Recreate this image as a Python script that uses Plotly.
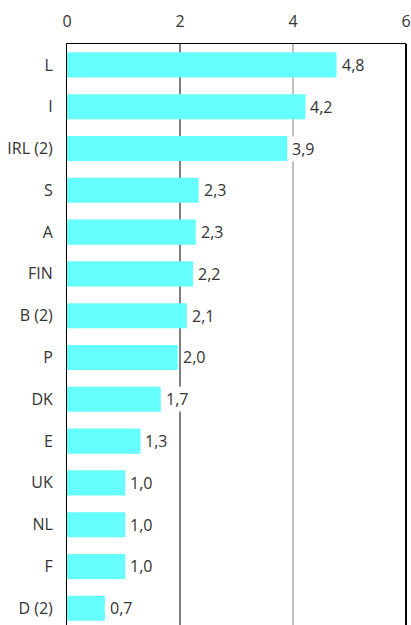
import plotly.graph_objects as go

categories = ["L", "I", "IRL (2)", "S", "A", "FIN", "B (2)", "P", "DK", "E", "UK", "NL", "F", "D (2)"]
values = [4.77, 4.22, 3.9, 2.33, 2.28, 2.23, 2.12, 1.96, 1.66, 1.3, 1.03, 1.03, 1.03, 0.67]
value_labels = ["4,8", "4,2", "3,9", "2,3", "2,3", "2,2", "2,1", "2,0", "1,7", "1,3", "1,0", "1,0", "1,0", "0,7"]
x_ticks = [0, 2, 4, 6]

FONT = "Open Sans"
TXT = "#333333"
FS = 16

fig = go.Figure(go.Bar(
    y=categories, x=values, orientation="h",
    marker=dict(color="#66FFFF", line=dict(width=0)),
    width=0.6,
    hoverinfo="skip",
))

# value labels with white background (they mask the gridlines behind them)
annotations = [
    dict(x=v, y=c, xref="x", yref="y", text=t, showarrow=False, xanchor="left", yanchor="middle",
         xshift=3, bgcolor="white", borderpad=1, font=dict(family=FONT, size=FS, color=TXT))
    for c, v, t in zip(categories, values, value_labels)
]

shapes = [
    dict(type="line", xref="x", yref="paper", x0=2, x1=2, y0=0, y1=1, line=dict(color="black", width=1), layer="below"),
    dict(type="line", xref="x", yref="paper", x0=4, x1=4, y0=0, y1=1, line=dict(color="#808080", width=1), layer="below"),
    dict(type="line", xref="paper", yref="paper", x0=1, x1=1, y0=0, y1=1, line=dict(color="black", width=2), layer="above"),
]

fig.update_layout(
    width=411, height=625,
    margin=dict(l=67, r=5, t=44, b=0, autoexpand=False),
    paper_bgcolor="white", plot_bgcolor="white",
    showlegend=False,
    shapes=shapes,
    annotations=annotations,
    font=dict(family=FONT, size=FS, color=TXT),
    xaxis=dict(side="top", range=[0, 6], tickvals=x_ticks, ticktext=[str(t) for t in x_ticks],
               showgrid=False, zeroline=False, showline=True, linecolor="black", linewidth=1,
               ticks="", ticklabelstandoff=10, automargin=False, ticklabeloverflow="allow",
               tickfont=dict(family=FONT, size=FS, color=TXT)),
    yaxis=dict(range=[13.4, -0.5], showgrid=False, zeroline=False, showline=True, linecolor="black",
               linewidth=1, ticks="", ticklabelstandoff=10, automargin=False,
               tickfont=dict(family=FONT, size=FS, color=TXT)),
)

fig.write_html(
    "out.html",
    config={"displayModeBar": False},
    post_script="document.body.style.margin='0';document.body.style.overflow='hidden';",
)
